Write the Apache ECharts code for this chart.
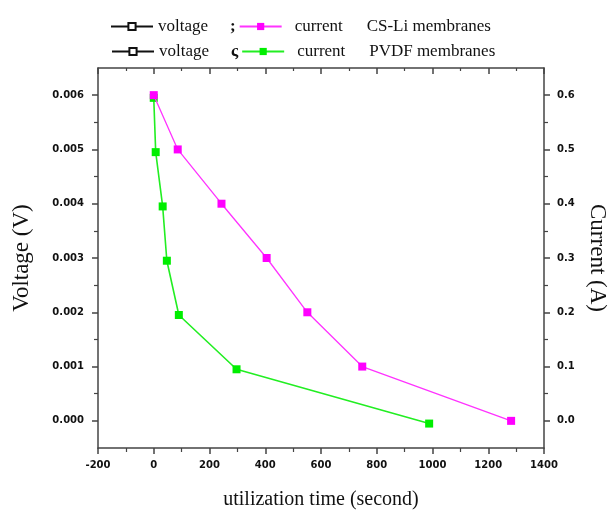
<!DOCTYPE html>
<html>
<head>
<meta charset="utf-8">
<script src="https://cdn.jsdelivr.net/npm/echarts@6/dist/echarts.min.js"></script>
<style>
  html, body { margin: 0; padding: 0; background: #fff; }
  #chart { width: 609px; height: 515px; }
</style>
</head>
<body>
<div id="chart"></div>
<script>
// CS-Li membranes
const timeCS = [0, 86, 243, 405, 551, 748, 1282];
const currentCS = [0.6, 0.5, 0.4, 0.3, 0.2, 0.1, 0.0];
// PVDF membranes
const timePVDF = [0, 7, 32, 47, 90, 297, 988];
const currentPVDF = [0.595, 0.495, 0.395, 0.295, 0.195, 0.095, -0.005];

const voltTicks = [0, 0.001, 0.002, 0.003, 0.004, 0.005, 0.006];
const voltMinor = [0.0005, 0.0015, 0.0025, 0.0035, 0.0045, 0.0055];
const currTicks = [0, 0.1, 0.2, 0.3, 0.4, 0.5, 0.6];
const currMinor = [0.05, 0.15, 0.25, 0.35, 0.45, 0.55];

const serif = 'Liberation Serif';
const tickFont = { fontFamily: 'DejaVu Sans', fontWeight: 'bold', fontSize: 10, color: '#111' };
const frame = { show: true, onZero: false, lineStyle: { color: '#444', width: 1.5 } };

const myChart = echarts.init(document.getElementById('chart'));

function pairs(xs, ys) {
  return xs.map((x, i) => [x, ys[i]]);
}

function legendRow(top, left, names, labels) {
  return {
    top: top,
    left: left,
    padding: 0,
    orient: 'horizontal',
    data: names,
    itemWidth: 42,
    itemHeight: 9,
    itemGap: 3,
    selectedMode: false,
    formatter: name => labels[name],
    textStyle: {
      fontFamily: serif,
      fontSize: 17,
      color: '#111',
      rich: {
        v: { fontFamily: serif, fontSize: 17, width: 72, padding: [0, 0, 0, 0] },
        p: { fontFamily: serif, fontSize: 17, fontWeight: 'bold', width: 8 },
        c: { fontFamily: serif, fontSize: 17, width: 72, padding: [0, 0, 0, 8] },
        m: { fontFamily: serif, fontSize: 17 }
      }
    }
  };
}

const option = {
  animation: false,
  backgroundColor: '#fff',
  legend: [
    legendRow(18, 110, ['voltage1', 'current1'], {
      voltage1: '{v|voltage}{p|;}',
      current1: '{c|current}{m|CS-Li membranes}'
    }),
    legendRow(43, 111, ['voltage2', 'current2'], {
      voltage2: '{v|voltage}{p|ς}',
      current2: '{c|current}{m|PVDF membranes}'
    })
  ],
  grid: { left: 98, right: 65, top: 68, bottom: 67, outerBoundsMode: 'none' },
  xAxis: [
    {
      type: 'value',
      position: 'bottom',
      min: -200,
      max: 1400,
      interval: 200,
      name: 'utilization time (second)',
      nameLocation: 'middle',
      nameGap: 42,
      nameTextStyle: { fontFamily: serif, fontSize: 20, color: '#111' },
      axisLine: frame,
      axisTick: { show: true, length: 6, lineStyle: { color: '#444', width: 1.5 } },
      minorTick: { show: true, splitNumber: 2, length: 4, lineStyle: { color: '#444', width: 1.2 } },
      axisLabel: Object.assign({ margin: 12, formatter: v => String(v) }, tickFont),
      splitLine: { show: false }
    },
    {
      type: 'value',
      position: 'top',
      min: -200,
      max: 1400,
      interval: 200,
      axisLine: frame,
      axisTick: { show: true, inside: true, length: 6, lineStyle: { color: '#444', width: 1.5 } },
      minorTick: { show: true, splitNumber: 2, length: 3, lineStyle: { color: '#444', width: 1.2 } },
      axisLabel: { show: false },
      splitLine: { show: false }
    }
  ],
  yAxis: [
    {
      type: 'value',
      position: 'left',
      min: -0.0005,
      max: 0.0065,
      name: 'Voltage (V)',
      nameLocation: 'middle',
      nameGap: 65,
      nameTextStyle: { fontFamily: serif, fontSize: 23, color: '#111' },
      axisLine: frame,
      axisTick: { show: true, length: 6, customValues: voltTicks, lineStyle: { color: '#444', width: 1.5 } },
      axisLabel: Object.assign({ margin: 14, customValues: voltTicks, formatter: v => v.toFixed(3) }, tickFont),
      splitLine: { show: false }
    },
    {
      type: 'value',
      position: 'right',
      min: -0.05,
      max: 0.65,
      name: 'Current (A)',
      nameLocation: 'middle',
      nameRotate: -90,
      nameGap: 40,
      nameTextStyle: { fontFamily: serif, fontSize: 23, color: '#111' },
      axisLine: frame,
      axisTick: { show: true, length: 6, customValues: currTicks, lineStyle: { color: '#444', width: 1.5 } },
      axisLabel: Object.assign({ margin: 13, customValues: currTicks, formatter: v => v.toFixed(1) }, tickFont),
      splitLine: { show: false }
    },
    {
      type: 'value',
      position: 'left',
      min: -0.0005,
      max: 0.0065,
      axisLine: { show: false, onZero: false },
      axisTick: { show: true, length: 4, customValues: voltMinor, lineStyle: { color: '#444', width: 1.2 } },
      axisLabel: { show: false },
      splitLine: { show: false }
    },
    {
      type: 'value',
      position: 'right',
      min: -0.05,
      max: 0.65,
      axisLine: { show: false, onZero: false },
      axisTick: { show: true, length: 4, customValues: currMinor, lineStyle: { color: '#444', width: 1.2 } },
      axisLabel: { show: false },
      splitLine: { show: false }
    }
  ],
  series: [
    {
      name: 'voltage1',
      type: 'line',
      yAxisIndex: 0,
      data: [],
      symbol: 'emptyRect',
      symbolSize: 6,
      itemStyle: { color: '#111' },
      lineStyle: { color: '#111', width: 1.2 }
    },
    {
      name: 'current1',
      type: 'line',
      yAxisIndex: 1,
      data: pairs(timeCS, currentCS),
      symbol: 'rect',
      symbolSize: 8,
      itemStyle: { color: '#ff00ff' },
      lineStyle: { color: '#ff33ff', width: 1.3 },
      z: 3
    },
    {
      name: 'voltage2',
      type: 'line',
      yAxisIndex: 0,
      data: [],
      symbol: 'emptyRect',
      symbolSize: 6,
      itemStyle: { color: '#111' },
      lineStyle: { color: '#111', width: 1.2 }
    },
    {
      name: 'current2',
      type: 'line',
      yAxisIndex: 1,
      data: pairs(timePVDF, currentPVDF),
      symbol: 'rect',
      symbolSize: 8,
      itemStyle: { color: '#00ee00' },
      lineStyle: { color: '#22ee22', width: 1.6 },
      z: 2
    }
  ]
};

myChart.setOption(option);
</script>
</body>
</html>
